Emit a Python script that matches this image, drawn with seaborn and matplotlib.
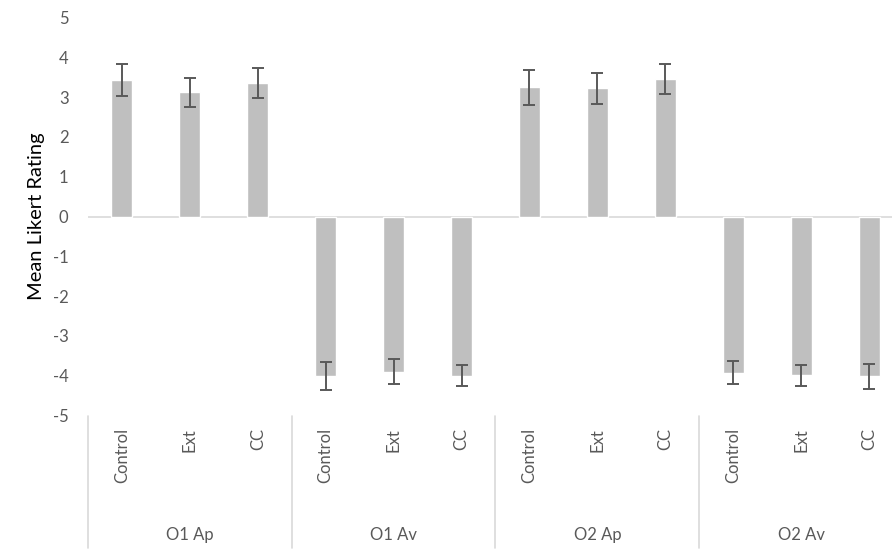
import numpy as np
import pandas as pd
import matplotlib
matplotlib.use("Agg")
import matplotlib.pyplot as plt
import matplotlib.transforms as mtrans
import seaborn as sns

# Data
groups = ["O1 Ap", "O1 Av", "O2 Ap", "O2 Av"]
conditions = ["Control", "Ext", "CC"]
means = [3.43, 3.12, 3.35, -4.01, -3.90, -4.00, 3.25, 3.22, 3.45, -3.92, -3.99, -4.02]
errors = [0.39, 0.37, 0.37, 0.36, 0.31, 0.27, 0.44, 0.39, 0.37, 0.29, 0.27, 0.32]

sns.set_style("white")
plt.rcParams["font.family"] = ["Lato", "DejaVu Sans"]
plt.rcParams["axes.unicode_minus"] = False

# Building a dataframe with unique keys so repeated condition names stay apart
df = pd.DataFrame({
    "key": [f"{g}|{c}" for g in groups for c in conditions],
    "condition": [c for g in groups for c in conditions],
    "mean": means,
    "err": errors,
})

fig = plt.figure(figsize=(8.92, 5.53), dpi=100)
ax = fig.add_axes([88 / 892, 1 - 415.5 / 553, 815 / 892, 398 / 553])

sns.barplot(data=df, x="key", y="mean", color="#BFBFBF", saturation=1, width=0.31,
            errorbar=None, ax=ax, zorder=2)
ax.errorbar(np.arange(len(df)), df["mean"], yerr=df["err"], fmt="none",
            ecolor="#595959", elinewidth=1.4, capsize=4, capthick=1.4, zorder=3)

ax.axhline(0, color="#D9D9D9", lw=1.2, zorder=1)
ax.set_ylim(-5, 5)
ax.set_xlim(-0.5, len(df) - 0.5)
ax.set_yticks(range(-5, 6))
ax.tick_params(axis="y", length=0, pad=14, labelsize=12, labelcolor="#595959")
ax.set_ylabel("Mean Likert Rating", fontsize=14.5, color="black")
ax.yaxis.set_label_coords(-0.053, 0.5)
ax.set_xlabel("")

ax.set_xticks(np.arange(len(df)))
ax.set_xticklabels(df["condition"], rotation=90, fontsize=12, color="#595959")
ax.tick_params(axis="x", length=0, pad=9)

for side in ["top", "right", "left", "bottom"]:
    ax.spines[side].set_visible(False)

# Multi-level category axis: separators and group labels
trans = mtrans.blended_transform_factory(ax.transData, ax.transAxes)
for b in np.arange(-0.5, len(df), 3):
    ax.plot([b, b], [0, -0.333], transform=trans, color="#D9D9D9", lw=1.2, clip_on=False)
for i, g in enumerate(groups):
    ax.text(i * 3 + 1, -0.300, g, transform=trans, ha="center", va="center",
            fontsize=12, color="#595959")

fig.savefig("out.png", dpi=100)
